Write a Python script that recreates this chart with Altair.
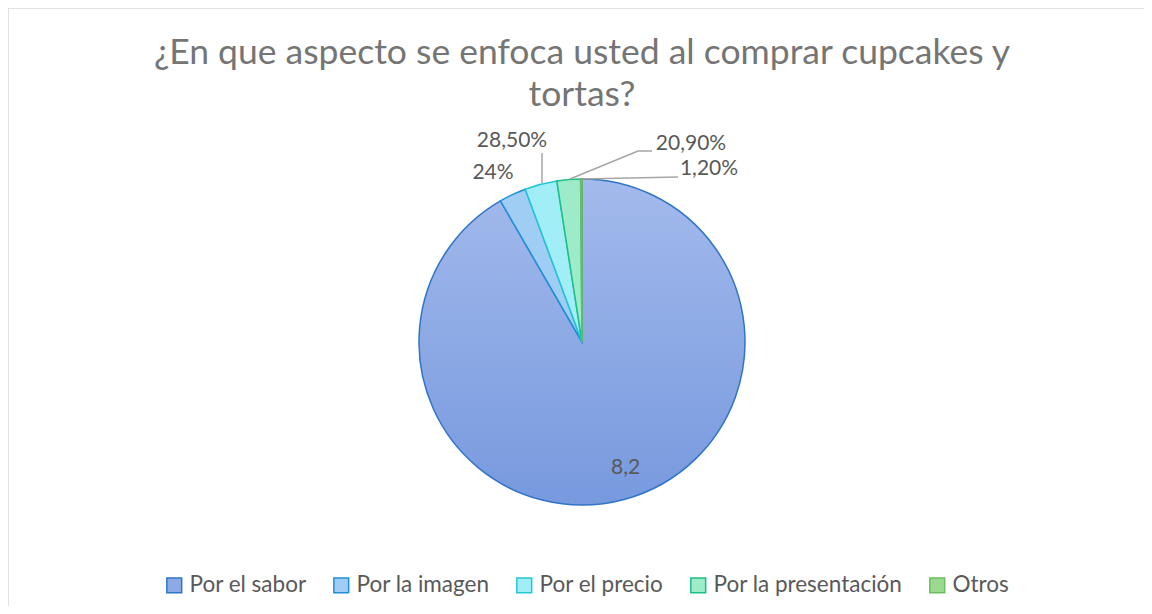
import math
import altair as alt
import pandas as pd

# ---- data ----
categories = ["Por el sabor", "Por la imagen", "Por el precio", "Por la presentación", "Otros"]
values = [8.2, 0.24, 0.285, 0.209, 0.012]
labels = ["8,2", "24%", "28,50%", "20,90%", "1,20%"]

title_lines = ["¿En que aspecto se enfoca usted al comprar cupcakes y", "tortas?"]

# ---- styles ----
fill_colors = ["#8eaae6", "#9fcdf4", "#a2eef6", "#9eebc9", "#9bd991"]
stroke_colors = ["#2f75c6", "#1f90d8", "#22c7d6", "#1dbf87", "#6cbf5f"]
FONT = "Lato"
TEXT_COLOR = "#595959"
W, H = 1136, 598
CX, CY, R = 574, 334, 163

total = sum(values)
df = pd.DataFrame({"cat": categories, "value": values, "label": labels,
                   "order": list(range(len(categories)))})

base = (
    alt.Chart(df)
    .transform_window(cum="sum(value)", sort=[alt.SortField("order")])
    .transform_calculate(start="datum.cum - datum.value", end="datum.cum",
                         mid="datum.cum - datum.value / 2")
)

theta_scale = alt.Scale(domain=[0, total], range=[0, 2 * math.pi])

legend = alt.Legend(
    orient="none", legendX=155, legendY=566, direction="horizontal",
    symbolType="square", symbolSize=220, symbolStrokeWidth=1.5,
    labelFont=FONT, labelFontSize=22.5, labelColor=TEXT_COLOR, labelLimit=400,
    columnPadding=23, labelOffset=4, symbolOpacity=1,
)

gradient = alt.Gradient(
    gradient="linear",
    stops=[alt.GradientStop(offset=0, color="#a3baec"),
           alt.GradientStop(offset=1, color="#7799de")],
    x1=0, x2=0, y1=0, y2=1,
)

sabor = base.transform_filter(alt.datum.cat == categories[0]).mark_arc(
    radius=R, fill=gradient, stroke=stroke_colors[0], strokeWidth=1.5
).encode(
    x=alt.value(CX), y=alt.value(CY),
    theta=alt.Theta("start:Q", scale=theta_scale),
    theta2=alt.Theta2("end:Q"),
)

others = base.transform_filter(alt.datum.cat != categories[0]).mark_arc(
    radius=R, strokeWidth=1.5
).encode(
    x=alt.value(CX), y=alt.value(CY),
    theta=alt.Theta("start:Q", scale=theta_scale),
    theta2=alt.Theta2("end:Q"),
    fill=alt.Fill("cat:N", title=None,
                  scale=alt.Scale(domain=categories, range=fill_colors), legend=legend),
    stroke=alt.Stroke("cat:N", title=None,
                      scale=alt.Scale(domain=categories, range=stroke_colors), legend=legend),
)

inside_label = base.transform_filter(alt.datum.cat == categories[0]).mark_text(
    radius=130, dx=10, font=FONT, fontSize=21, color=TEXT_COLOR, baseline="middle"
).encode(
    x=alt.value(CX), y=alt.value(CY),
    theta=alt.Theta("mid:Q", scale=theta_scale),
    text="label:N",
)

# annotation placement of outside labels (layout, not data)
out_labels = pd.DataFrame({
    "label": labels[1:],
    "px": [485, 504, 683, 701],
    "py": [165, 133, 136, 161],
})
outside = alt.Chart(out_labels).mark_text(
    font=FONT, fontSize=21, color=TEXT_COLOR, baseline="middle", align="center"
).encode(
    x=alt.X("px:Q", scale=None), y=alt.Y("py:Q", scale=None), text="label:N"
)

leaders = pd.DataFrame({
    "line": ["a", "a", "b", "b", "b", "c", "c"],
    "ord": [0, 1, 0, 1, 2, 0, 1],
    "px": [534, 534, 562, 630, 644, 574, 670],
    "py": [145, 175, 171, 143, 143, 171, 169],
})
leader_lines = alt.Chart(leaders).mark_line(color="#a6a6a6", strokeWidth=1.5).encode(
    x=alt.X("px:Q", scale=None), y=alt.Y("py:Q", scale=None),
    detail="line:N", order="ord:Q",
)

title = alt.Chart(pd.DataFrame({"t": [0]})).mark_text(
    text=title_lines, font=FONT, fontSize=35.5, color="#757575",
    align="center", baseline="alphabetic", lineHeight=42,
).encode(x=alt.value(CX), y=alt.value(56))

border_left = alt.Chart(pd.DataFrame({"t": [0]})).mark_rule(color="#d9d9d9", strokeWidth=1.5).encode(
    x=alt.value(0), y=alt.value(0), y2=alt.value(H))
border_top = alt.Chart(pd.DataFrame({"t": [0]})).mark_rule(color="#d9d9d9", strokeWidth=1.5).encode(
    x=alt.value(0), x2=alt.value(W), y=alt.value(0))

chart = alt.layer(
    border_left, border_top, sabor, others, leader_lines, outside, inside_label, title
).properties(
    width=W, height=H, padding=0,
    autosize=alt.AutoSizeParams(type="none"),
    background="white",
).configure_view(stroke="transparent")

chart.save("out.html", embed_options={"renderer": "svg", "actions": False})
